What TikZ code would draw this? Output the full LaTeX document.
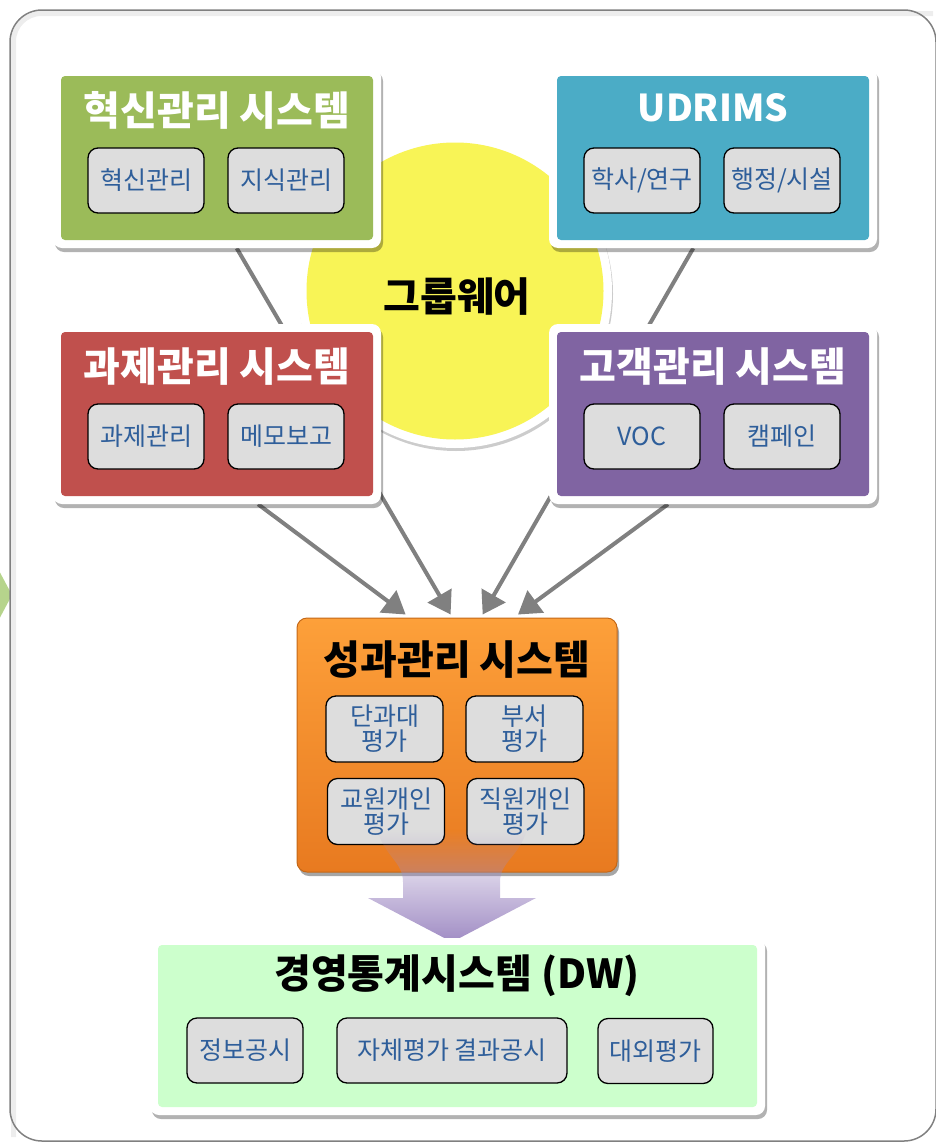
\documentclass[tikz,border=0pt]{standalone}
\usepackage{fontspec}
\setmainfont{Noto Sans CJK KR}
\usetikzlibrary{shadows,calc,arrows.meta,fadings}
\definecolor{frameGray}{RGB}{128,128,128}
\definecolor{innoGreen}{RGB}{155,187,89}
\definecolor{udBlue}{RGB}{75,172,198}
\definecolor{taskRed}{RGB}{192,80,77}
\definecolor{custPurple}{RGB}{128,100,162}
\definecolor{gwYellow}{RGB}{248,244,86}
\definecolor{subGray}{RGB}{221,221,221}
\definecolor{subBlue}{RGB}{46,94,154}
\definecolor{orangeTop}{RGB}{253,160,58}
\definecolor{orangeBot}{RGB}{232,122,32}
\definecolor{orangeEdge}{RGB}{196,104,24}
\definecolor{dwGreen}{RGB}{204,255,204}
\definecolor{arrowGray}{RGB}{128,128,128}
\definecolor{bigArrow}{RGB}{160,140,196}
\definecolor{chevGreen}{RGB}{182,212,140}
\tikzfading[name=upfade, top color=transparent!100, middle color=transparent!10, bottom color=transparent!0]
\pgfdeclarelayer{bg}
\pgfsetlayers{bg,main}
\begin{document}
\begin{tikzpicture}[x=1pt,y=-1pt,
  frameW/.style={rectangle, rounded corners=9pt, fill=white, minimum width=328pt, minimum height=180pt, inner sep=0pt,
    drop shadow={shadow xshift=2pt, shadow yshift=-4pt, opacity=0.3, fill=black}},
  panel/.style={rectangle, rounded corners=4pt, minimum width=312pt, minimum height=164pt, inner sep=0pt, fill=#1},
  ttl/.style={font=\bfseries\fontsize{40}{44}\selectfont, text=#1, inner sep=0pt},
  subbox/.style={draw=black, line width=1.3pt, fill=subGray, rounded corners=10pt, minimum width=116pt, minimum height=65pt,
    inner sep=0pt, text=subBlue, font=\fontsize{25}{25}\selectfont, align=center},
  conn/.style={draw=arrowGray, line width=4pt},
  connA/.style={conn, -{Triangle[length=22pt,width=27pt]}},
]
\useasboundingbox (0,0) rectangle (935,1143);

% groupware circle
\node[circle, fill=white, minimum size=314pt, inner sep=0pt,
  drop shadow={shadow xshift=1pt, shadow yshift=-3pt, opacity=0.2, fill=black}] (gwRing) at (455,291) {};
\node[circle, fill=gwYellow, minimum size=297pt, inner sep=0pt] (gw) at (455,291) {};
\node[ttl=black] (gwT) at (457,297) {그룹웨어};

% innovation
\node[frameW] (inno) at (217,158) {};
\node[panel=innoGreen] (innoP) at (217,158) {};
\node[ttl=white] (innoT) at (217,110) {혁신관리 시스템};
\node[subbox] (inno1) at (146,180.5) {혁신관리};
\node[subbox] (inno2) at (286,180.5) {지식관리};

% UDRIMS
\node[frameW] (udr) at (713,158) {};
\node[panel=udBlue] (udrP) at (713,158) {};
\node[ttl=white, font=\bfseries\fontsize{37}{40}\selectfont] (udrT) at (713,108) {UDRIMS};
\node[subbox] (udr1) at (642,180.5) {학사/연구};
\node[subbox] (udr2) at (782,180.5) {행정/시설};

% task
\node[frameW] (task) at (217,414) {};
\node[panel=taskRed] (taskP) at (217,414) {};
\node[ttl=white] (taskT) at (217,367) {과제관리 시스템};
\node[subbox] (task1) at (146,436.5) {과제관리};
\node[subbox] (task2) at (286,436.5) {메모보고};

% customer
\node[frameW] (cust) at (713,414) {};
\node[panel=custPurple] (custP) at (713,414) {};
\node[ttl=white] (custT) at (713,367) {고객관리 시스템};
\node[subbox] (cust1) at (642,436.5) {VOC};
\node[subbox] (cust2) at (782,436.5) {캠페인};

% performance
\node[rectangle, rounded corners=10pt, minimum width=320pt, minimum height=254pt, inner sep=0pt,
  top color=orangeTop, bottom color=orangeBot, draw=orangeEdge, line width=1pt,
  drop shadow={shadow xshift=2pt, shadow yshift=-4pt, opacity=0.35, fill=black}] (perf) at (457,745) {};
\node[ttl=black] (perfT) at (457,660) {성과관리 시스템};
\node[subbox, minimum width=117pt, minimum height=66pt] (perf1) at (384.5,729) {단과대\\평가};
\node[subbox, minimum width=117pt, minimum height=66pt] (perf2) at (524.5,729) {부서\\평가};
\node[subbox, minimum width=117pt, minimum height=66pt] (perf3) at (386,811.5) {교원개인\\평가};
\node[subbox, minimum width=117pt, minimum height=66pt] (perf4) at (525.5,811.5) {직원개인\\평가};

% big block arrow
\path[fill=bigArrow, path fading=upfade]
  (377,830) .. controls (386,858) and (403,862) .. (403,882) -- (403,898) -- (368,898) -- (452,942)
  -- (536,898) -- (500,898) -- (500,882) .. controls (500,862) and (518,858) .. (527,830) -- cycle;

% DW
\node[rectangle, rounded corners=9pt, fill=white, minimum width=615pt, minimum height=177pt, inner sep=0pt,
  drop shadow={shadow xshift=2pt, shadow yshift=-4pt, opacity=0.3, fill=black}] (dw) at (457.5,1026.5) {};
\node[rectangle, rounded corners=4pt, fill=dwGreen, minimum width=599pt, minimum height=162pt, inner sep=0pt] (dwP) at (457.5,1026) {};
\node[ttl=black] (dwT) at (457,976) {경영통계시스템 (DW)};
\node[subbox] (dw1) at (245,1050.5) {정보공시};
\node[subbox, minimum width=230pt] (dw2) at (452,1050.5) {자체평가 결과공시};
\node[subbox, minimum width=115pt] (dw3) at (655.5,1051) {대외평가};

\begin{pgfonlayer}{bg}
  \fill[chevGreen] (-4,565) -- (12,595) -- (-4,625) -- cycle;
  \draw[black!7, line width=5pt, rounded corners=28pt] (13.5,1137) -- (13.5,13.5) -- (933,13.5);
  \draw[frameGray, line width=1.5pt, rounded corners=32pt] (10,10) rectangle (936,1141);
  \draw[connA] ($(inno.south west)!0.56!(inno.south east)$) -- ($(perf.north west)!0.48!(perf.north east)+(0,-3)$);
  \draw[connA] ($(udr.south west)!0.44!(udr.south east)$) -- ($(perf.north west)!0.58!(perf.north east)+(0,-3)$);
  \draw[connA] ($(task.south west)!0.625!(task.south east)$) -- ($(perf.north west)!0.34!(perf.north east)+(0,-3)$);
  \draw[connA] ($(cust.south west)!0.363!(cust.south east)$) -- ($(perf.north west)!0.69!(perf.north east)+(0,-3)$);
\end{pgfonlayer}
\end{tikzpicture}
\end{document}
